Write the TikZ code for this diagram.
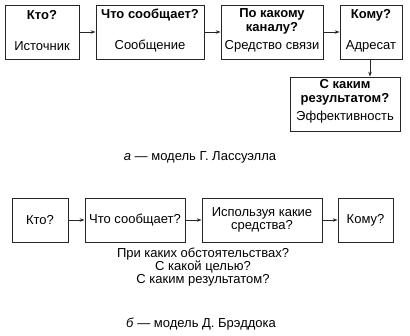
\documentclass[tikz,border=0pt]{standalone}
\usepackage{fontspec}
\setmainfont{Liberation Sans}
\usetikzlibrary{arrows.meta,positioning}

\tikzset{
  box/.style={draw=black!85,line width=0.8pt,inner sep=0pt},
  ask/.style={font=\fontsize{13}{14}\selectfont\bfseries,align=center},
  say/.style={align=center},
  link/.style={draw=black!85,line width=0.8pt,-{Stealth[length=5pt,width=3.5pt]}}
}

\begin{document}
\begin{tikzpicture}[x=1pt,y=-1pt,font=\fontsize{13}{13}\selectfont]
        \useasboundingbox (0,0) rectangle (410,336);
        % a: Lasswell model
        \node[box,minimum width=74pt,minimum height=54pt]  (who)    at (42,32)  {};
        \node[box,minimum width=108pt,minimum height=54pt] (what)   at (150,32) {};
        \node[box,minimum width=102pt,minimum height=54pt] (chan)   at (272,32) {};
        \node[box,minimum width=62pt,minimum height=54pt]  (whom)   at (371,32) {};
        \node[box,minimum width=110pt,minimum height=54pt] (effect) at (345,104) {};
        % Questions and answers
        \node[ask] (whoq)    at (42,15)    {Кто?};
        \node[say] (whoa)    at (42,46)    {Источник};
        \node[ask] (whatq)   at (150,15)   {Что сообщает?};
        \node[say] (whata)   at (150,46)   {Сообщение};
        \node[ask] (chanq)   at (272,21.5) {По какому\\каналу?};
        \node[say] (chana)   at (272,46)   {Средство связи};
        \node[ask] (whomq)   at (371,15)   {Кому?};
        \node[say] (whoma)   at (371,46)   {Адресат};
        \node[ask] (effectq) at (345,92)   {С каким\\результатом?};
        \node[say] (effecta) at (345,117)  {Эффективность};
        % Links
        \draw[link] (who) -- (what);
        \draw[link] (what) -- (chan);
        \draw[link] (chan) -- (whom);
        \draw[link] (whom.south -| 370,0) -- (effect.north -| 370,0);
        \node (capa) at (200,157) {\textit{а} — модель Г. Лассуэлла};
        % b: Braddock model
        \node[box,minimum width=56pt,minimum height=44pt]  (bwho)  at (40,220)    {Кто?};
        \node[box,minimum width=100pt,minimum height=44pt] (bwhat) at (135,220)   {Что сообщает?};
        \node[box,minimum width=120pt,minimum height=44pt,align=center] (bmean) at (262,220) {Используя какие\\средства?};
        \node[box,minimum width=55pt,minimum height=44pt]  (bwhom) at (365.5,220) {Кому?};
        \draw[link] (bwho) -- (bwhat);
        \draw[link] (bwhat) -- (bmean);
        \draw[link] (bmean) -- (bwhom);
        \node[say] (extra) at (203,267) {При каких обстоятельствах?\\С какой целью?\\С каким результатом?};
        \node (capb) at (201,324) {\textit{б} — модель Д. Брэддока};
      \end{tikzpicture}
\end{document}
